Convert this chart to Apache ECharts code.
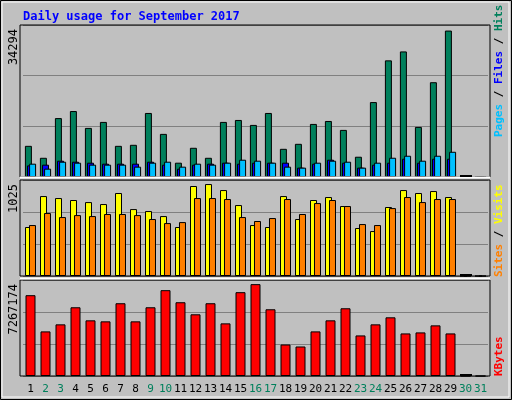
<!DOCTYPE html>
<html><head><meta charset="utf-8">
<script src="https://cdn.jsdelivr.net/npm/echarts@6/dist/echarts.min.js"></script>
<style>html,body{margin:0;padding:0;background:#c0c0c0}#c{width:512px;height:400px}</style>
</head><body><div id="c"></div>
<script>
const days = ['1','2','3','4','5','6','7','8','9','10','11','12','13','14','15','16','17','18','19','20','21','22','23','24','25','26','27','28','29','30','31'];
const weekend = ['2','3','9','10','16','17','23','24','30','31'];
const hits = [7300,4500,13800,15450,11500,12900,7300,7540,15000,10100,3350,6840,4500,12900,13360,12200,15000,6600,7770,12430,13120,11030,4750,17550,27320,29410,11730,22200,34294,0,0];
const files = [2720,2890,3820,3580,3350,3120,3120,3120,3580,2890,1950,2890,3120,3350,3120,3350,3350,3350,2190,3120,4050,3350,2190,2890,3350,4280,3350,4280,4280,0,0];
const pages = [3120,1950,3580,3350,2890,2890,2890,2420,3350,3580,2420,3120,2890,3350,4050,3820,3350,2420,2190,3350,3820,3580,2190,3350,4510,4980,3820,4980,5910,0,0];
const visits = [546,891,869,847,824,802,925,746,724,668,546,1003,1025,958,791,568,546,891,635,847,880,780,535,501,769,958,925,947,880,0,0];
const sites = [568,702,657,679,668,691,691,679,635,590,601,869,869,858,657,613,646,858,691,813,847,780,579,568,757,880,824,858,858,0,0];
const kbytes = [6392000,3528000,4085000,5437000,4403000,4323000,5755000,4323000,5437000,6790000,5835000,4880000,5755000,4164000,6631000,7267174,5278000,2493000,2334000,3528000,4403000,5358000,3209000,4085000,4642000,3368000,3448000,4005000,3368000,0,0];
const maxLabels = ['34294','1025','7267174'];

const ch = echarts.init(document.getElementById('c'));
const mono = 'DejaVu Sans Mono';
const grids = [{left:23,width:465,top:25,height:152},{left:23,width:465,top:180,height:96},{left:23,width:465,top:280,height:96}];
const maxes = [35600,1070,7594000];
const xAxes = grids.map((g,i)=>({type:'category',gridIndex:i,data:days,boundaryGap:true,
  axisLine:{show:false},axisTick:{show:false},
  axisLabel:{show:i===2,interval:0,fontFamily:mono,fontSize:11,margin:8,
    color:(v)=>weekend.includes(v)?'#00805c':'#000'}}));
const yAxes = grids.map((g,i)=>({type:'value',gridIndex:i,min:0,max:maxes[i],interval:maxes[i]/3,
  axisLabel:{show:false},axisLine:{show:false},axisTick:{show:false},
  splitLine:{lineStyle:{color:'#808080',width:1}}}));
const bs = {borderColor:'#000',borderWidth:1};
const bar = (name,data,xi,color,w,gap)=>({name,type:'bar',data,xAxisIndex:xi,yAxisIndex:xi,barWidth:w,barGap:gap,
  itemStyle:Object.assign({color},bs),animation:false,silent:true});
const panels = grids.map(g=>({type:'rect',shape:{x:20,y:g.top,width:470,height:g.height},
  style:{fill:'none',stroke:'#000',lineWidth:1},z:10}));
const whiteLines = [177.5,278.5].map(y=>({type:'line',shape:{x1:20,y1:y,x2:490,y2:y},style:{stroke:'#fff',lineWidth:2},z:11}));
const zeroMarks = [176,275,375].map(y=>({type:'rect',shape:{x:460,y:y-1,width:12,height:2},style:{fill:'#000'},z:12}));
const ylabels = grids.map((g,i)=>({type:'text',x:8,y:g.top+4,rotation:Math.PI/2,
  style:{text:maxLabels[i],font:'12px '+mono,fill:'#000',align:'right',verticalAlign:'top'},z:12}));
const side = (y,parts)=>({type:'text',x:494,y,rotation:Math.PI/2,
  style:{text:parts.map(p=>'{'+p[0]+'|'+p[1]+'}').join(''),
    rich:Object.fromEntries(parts.map(p=>[p[0],{fill:p[2],font:'bold 11px '+mono}])),
    align:'left',verticalAlign:'top'},z:12});
ch.setOption({
  backgroundColor:'#c0c0c0',
  animation:false,
  title:{text:'Daily usage for September 2017',left:18,top:6,
    textStyle:{color:'#0000ff',fontFamily:mono,fontSize:12,fontWeight:'bold'}},
  grid:grids,xAxis:xAxes,yAxis:yAxes,
  series:[
    bar('Hits',hits,0,'#00805c',7,'-70%'),
    bar('Files',files,0,'#0000ff',7,'-70%'),
    bar('Pages',pages,0,'#00c0ff',7,'-70%'),
    bar('Visits',visits,1,'#ffff00',7,'-43%'),
    bar('Sites',sites,1,'#ff8000',7,'-43%'),
    bar('KBytes',kbytes,2,'#ff0000',10,'0%')
  ],
  graphic:[
    {type:'rect',shape:{x:0.5,y:0.5,width:511,height:399},style:{fill:'none',stroke:'#000',lineWidth:1},z:0},
    {type:'rect',shape:{x:2,y:2,width:507,height:395},style:{fill:'none',stroke:'#fff',lineWidth:1},z:0},
    ...panels,...whiteLines,...zeroMarks,...ylabels,
    side(137,[['p','Pages','#00c0ff'],['s',' / ','#000'],['f','Files','#0000ff'],['s2',' / ','#000'],['h','Hits','#00805c']]),
    side(277,[['a','Sites','#ff8000'],['s',' / ','#000'],['v','Visits','#ffff00']]),
    side(376,[['k','KBytes','#ff0000']])
  ]
});
</script></body></html>
